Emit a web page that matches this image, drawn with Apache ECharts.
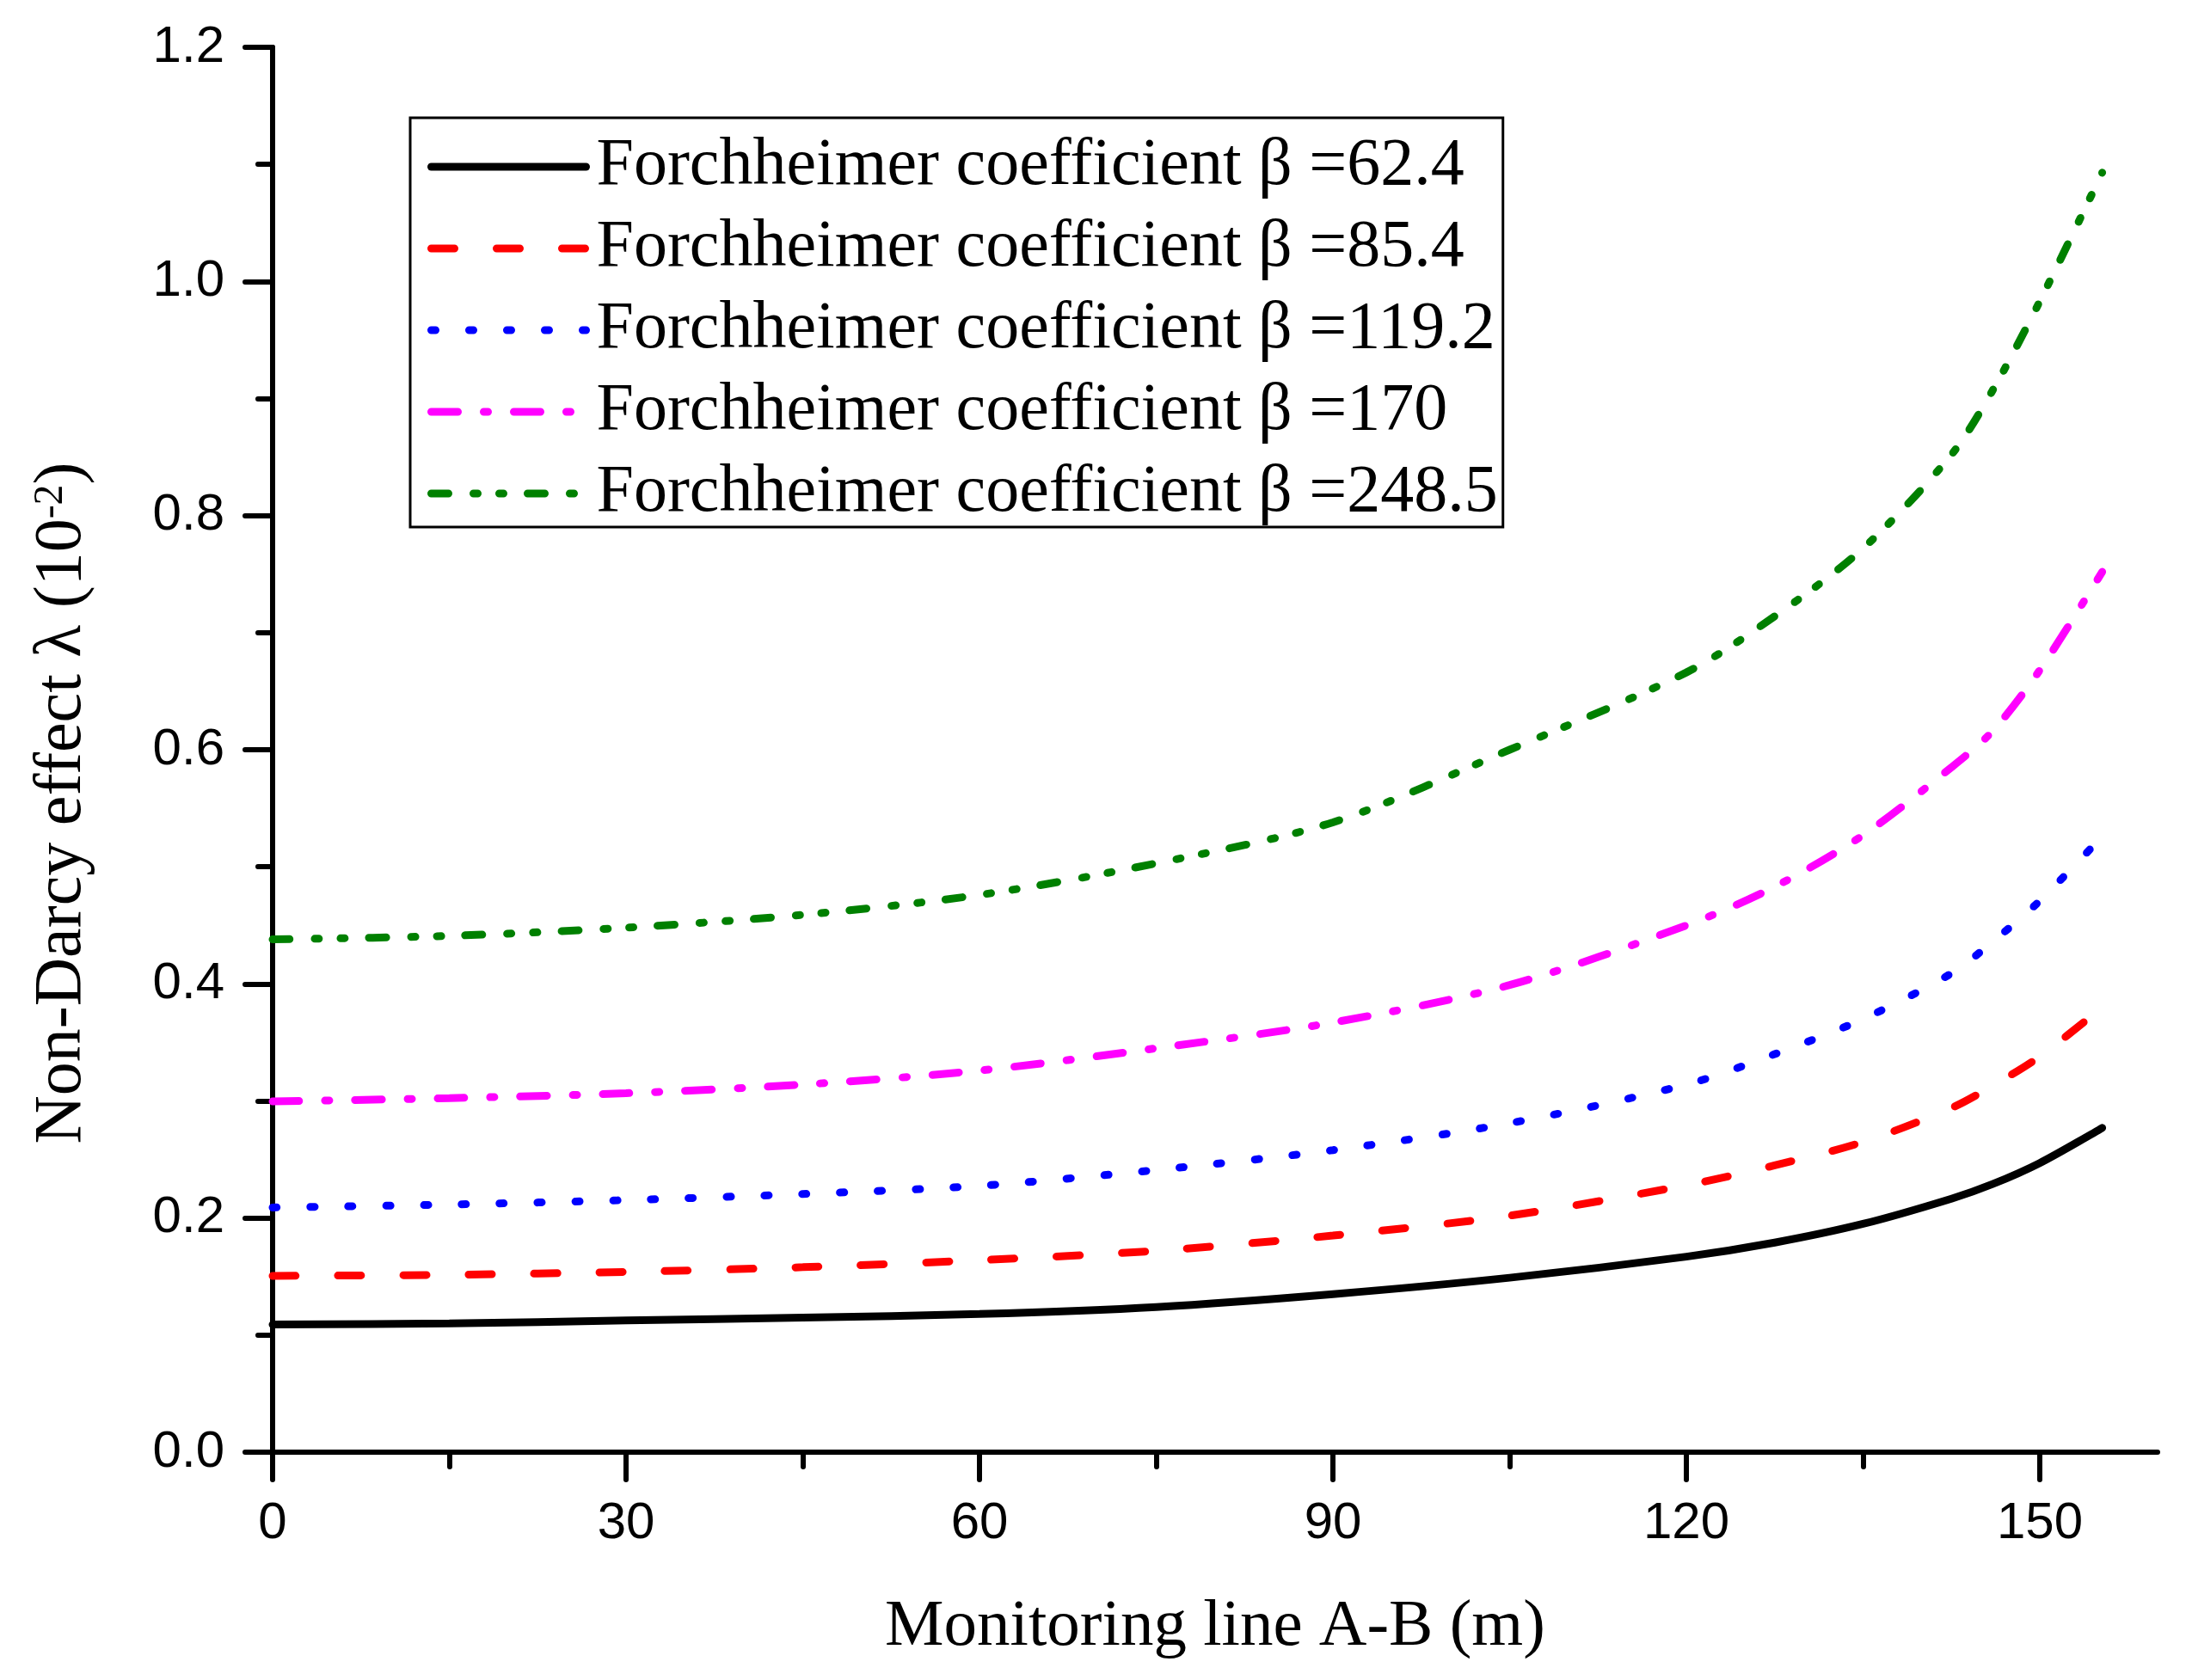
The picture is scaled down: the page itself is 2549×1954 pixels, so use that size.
<!DOCTYPE html>
<html>
<head>
<meta charset="utf-8">
<title>Non-Darcy effect along monitoring line A-B</title>
<script src="https://cdn.jsdelivr.net/npm/echarts@6/dist/echarts.min.js"></script>
<style>
  html, body { margin: 0; padding: 0; background: #fff; }
  #chart { width: 2549px; height: 1954px; }
</style>
</head>
<body>
<div id="chart"></div>
<script>
// distance along monitoring line A-B (m)
const positions = [0, 15, 30, 45, 60, 75, 90, 105, 120, 127.5, 135, 142.5, 146, 150, 155.3];

// non-Darcy effect lambda (10^-2), one list per Forchheimer coefficient
const beta624 = [0.109, 0.110, 0.1125, 0.115, 0.118, 0.124, 0.135, 0.149, 0.167, 0.179, 0.195, 0.2165, 0.229, 0.247, 0.277];
const beta854 = [0.1506, 0.1515, 0.154, 0.158, 0.164, 0.172, 0.185, 0.202, 0.228, 0.245, 0.265, 0.294, 0.313, 0.338, 0.380];
const beta1192 = [0.209, 0.2115, 0.2153, 0.2205, 0.2275, 0.241, 0.258, 0.281, 0.314, 0.340, 0.370, 0.409, 0.436, 0.471, 0.526];
const beta170 = [0.2996, 0.3024, 0.3066, 0.314, 0.326, 0.345, 0.367, 0.399, 0.450, 0.483, 0.527, 0.585, 0.616, 0.668, 0.752];
const beta2485 = [0.438, 0.441, 0.448, 0.459, 0.476, 0.503, 0.538, 0.600, 0.666, 0.714, 0.772, 0.852, 0.907, 0.983, 1.093];

const seriesNames = [
  'Forchheimer coefficient \u03b2 =62.4',
  'Forchheimer coefficient \u03b2 =85.4',
  'Forchheimer coefficient \u03b2 =119.2',
  'Forchheimer coefficient \u03b2 =170',
  'Forchheimer coefficient \u03b2 =248.5'
];

const xMajorTicks = [0, 30, 60, 90, 120, 150];
const xMinorTicks = [15, 45, 75, 105, 135];

const serif = 'Liberation Serif';
const sans = 'Liberation Sans';

//样式：颜色和虚线
const lineStyles = [
  { color: '#000000', type: 'solid' },
  { color: '#ff0000', type: [27, 49] },
  { color: '#0000ff', type: [5, 39] },
  { color: '#ff00ff', type: [31, 30, 5, 30] },
  { color: '#008000', type: [20, 29, 5, 25, 5, 28] }
];

function pairs(ys) {
  return positions.map((x, i) => [x, ys[i]]);
}

const values = [beta624, beta854, beta1192, beta170, beta2485];

const series = values.map((ys, i) => ({
  name: seriesNames[i],
  type: 'line',
  xAxisIndex: 0,
  yAxisIndex: 0,
  data: pairs(ys),
  smooth: 0.3,
  symbol: 'none',
  lineStyle: {
    color: lineStyles[i].color,
    type: lineStyles[i].type,
    width: 9,
    cap: 'round'
  },
  itemStyle: { color: lineStyles[i].color }
}));

let chart = echarts.init(document.getElementById('chart'));

const axisLineStyle = { color: '#000', width: 6, cap: 'round' };

chart.setOption({
  animation: false,
  backgroundColor: '#fff',
  grid: {
    left: 317,
    right: 40,
    top: 55,
    bottom: 265,
    containLabel: false,
    outerBoundsMode: 'none'
  },
  legend: {
    orient: 'vertical',
    left: 477,
    top: 137,
    padding: [18, 6, 0, 20],
    borderColor: '#000',
    borderWidth: 3,
    itemWidth: 180,
    itemHeight: 20,
    itemGap: 17,
    data: seriesNames,
    // 图例里只画线，不画圆点
    itemStyle: { color: 'rgba(0,0,0,0)', borderWidth: 0, opacity: 0 },
    lineStyle: { width: 9, cap: 'round' },
    textStyle: {
      fontFamily: serif,
      fontSize: 78,
      lineHeight: 76,
      color: '#000',
      padding: [0, 0, 0, 7]
    }
  },
  xAxis: [
    {
      type: 'value',
      position: 'bottom',
      min: 0,
      max: 160,
      splitLine: { show: false },
      axisLine: { show: true, onZero: false, lineStyle: axisLineStyle },
      axisTick: {
        show: true,
        length: 32,
        customValues: xMajorTicks,
        lineStyle: axisLineStyle
      },
      axisLabel: {
        customValues: xMajorTicks,
        margin: 53,
        fontFamily: sans,
        fontSize: 60,
        color: '#000'
      },
      name: 'Monitoring line A-B (m)',
      nameLocation: 'middle',
      nameGap: 166,
      nameTextStyle: {
        fontFamily: serif,
        fontSize: 77,
        lineHeight: 76,
        color: '#000'
      }
    },
    {
      // 次刻度
      type: 'value',
      position: 'bottom',
      offset: 0,
      min: 0,
      max: 160,
      splitLine: { show: false },
      axisLine: { show: false, onZero: false },
      axisTick: {
        show: true,
        length: 17,
        customValues: xMinorTicks,
        lineStyle: axisLineStyle
      },
      axisLabel: { show: false }
    }
  ],
  yAxis: {
    type: 'value',
    min: 0,
    max: 1.2,
    interval: 0.2,
    splitLine: { show: false },
    axisLine: { show: true, lineStyle: axisLineStyle },
    axisTick: { show: true, length: 32, lineStyle: axisLineStyle },
    minorTick: { show: true, splitNumber: 2, length: 17, lineStyle: axisLineStyle },
    minorSplitLine: { show: false },
    axisLabel: {
      margin: 56,
      fontFamily: sans,
      fontSize: 60,
      color: '#000',
      formatter: v => v.toFixed(1)
    },
    name: '{a|Non-Darcy effect \u03bb (10}{sup|-2}{a|)}',
    nameLocation: 'middle',
    nameGap: 206,
    nameTextStyle: {
      color: '#000',
      padding: [0, 124, 0, 0],
      rich: {
        a: { fontFamily: serif, fontSize: 78, lineHeight: 76, color: '#000' },
        sup: { fontFamily: serif, fontSize: 48, lineHeight: 20, verticalAlign: 'top', color: '#000' }
      }
    }
  },
  series: series
});
</script>
</body>
</html>
